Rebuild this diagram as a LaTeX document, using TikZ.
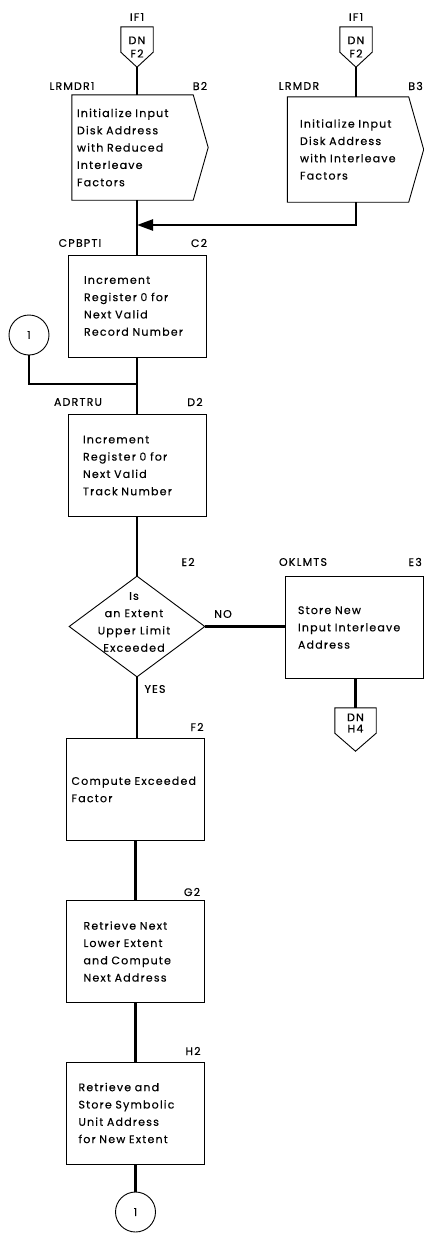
\documentclass[tikz,border=0pt]{standalone}
\usepackage{fontspec}
\setmainfont{Poppins}[FakeBold=0.3, LetterSpace=11]
\usetikzlibrary{shapes.geometric,arrows.meta}

\newcommand\chartfont{\fontsize{11}{17.3}\selectfont}

\tikzset{
  flow/.style={line width=2.4pt},
  outline/.style={line width=0.9pt},
  tag/.style={font=\chartfont, inner sep=0pt},
  procbox/.style={draw, outline, rectangle, font=\chartfont, inner sep=0pt,
    minimum width=138, minimum height=102, align=left, text width=#1},
  procbox/.default=110,
  entrybox/.style={rectangle, font=\chartfont, inner sep=0pt,
    minimum width=136, minimum height=105, align=left, text width=#1},
  pagelink/.style={rectangle, font=\chartfont, inner sep=0pt,
    minimum width=32, minimum height=40, align=center},
  decision/.style={draw, outline, diamond, minimum width=136, minimum height=101, inner sep=0pt},
  joint/.style={draw, outline, circle, minimum size=40, inner sep=0pt, font=\chartfont}
}

\begin{document}
\begin{tikzpicture}[x=1pt, y=-1pt]
  \useasboundingbox (0,0) rectangle (423,1234);

  % Entry connectors
  \node[pagelink] (ifa) at (137,47) {DN\\[-4pt]F2};
  \node[pagelink] (ifb) at (356,47) {DN\\[-4pt]F2};
  \foreach \p in {ifa,ifb}
    \draw[outline] (\p.north west) -- (\p.north east) -- ([yshift=15pt]\p.south east)
      -- (\p.south) -- ([yshift=15pt]\p.south west) -- cycle;
  \node[tag] at (137,17) {IF1};
  \node[tag] at (356,17) {IF1};

  % Entry boxes
  \node[entrybox=126] (b2) at (140,147.5) {Initialize Input\\Disk Address\\with Reduced\\Interleave\\Factors};
  \node[entrybox=111] (b3) at (355.5,149.5) {Initialize Input\\Disk Address\\with Interleave\\Factors};
  \foreach \p in {b2,b3}
    \draw[outline] (\p.north west) -- ([xshift=-15pt]\p.north east) -- (\p.east)
      -- ([xshift=-15pt]\p.south east) -- (\p.south west) -- cycle;
  \node[tag] at (72,86) {LRMDR1};
  \node[tag] at (200,86) {B2};
  \node[tag] at (299,86) {LRMDR};
  \node[tag, anchor=east] at (423,86) {B3};

  % Main column
  \node[procbox=106] (c2) at (137,306) {Increment\\Register 0 for\\Next Valid\\Record Number};
  \node[procbox=108] (d2) at (137,465.5) {Increment\\Register 0 for\\Next Valid\\Track Number};
  \node[decision] (dec) at (137,626.5) {};
  \node[tag, align=center] at (134,622) {Is\\an Extent\\Upper Limit\\Exceeded};
  \node[procbox=128] (f2) at (135.5,789.5) {Compute Exceeded\\Factor};
  \node[procbox=104] (g2) at (135.5,951.5) {Retrieve Next\\Lower Extent\\and Compute\\Next Address};
  \node[procbox=114] (h2) at (135.5,1113) {Retrieve and\\Store Symbolic\\Unit Address\\for New Extent};
  \node[joint] (c1) at (29,335) {1};
  \node[joint] (c1b) at (135.5,1212) {1};

  % Side branch
  \node[procbox=112] (e3) at (354,627.5) {Store New\\Input Interleave\\Address};
  \node[pagelink, minimum width=41, minimum height=43, text depth=13pt] (oph) at (355.5,729.5) {DN\\[-6pt]H4};
  \draw[outline] (oph.north west) -- (oph.north east) -- ([yshift=18pt]oph.south east)
    -- (oph.south) -- ([yshift=18pt]oph.south west) -- cycle;

  % Block labels
  \node[tag] at (80,243) {CPBPTI};
  \node[tag] at (199,243) {C2};
  \node[tag] at (78,402) {ADRTRU};
  \node[tag] at (195,402) {D2};
  \node[tag] at (188,562) {E2};
  \node[tag] at (303,562) {OKLMTS};
  \node[tag, anchor=east] at (422,562) {E3};
  \node[tag] at (223,614) {NO};
  \node[tag] at (155,689) {YES};
  \node[tag] at (197,727) {F2};
  \node[tag] at (192,892) {G2};
  \node[tag] at (193,1051) {H2};

  % Flow lines
  \coordinate (join) at (137,225);
  \coordinate (merge) at (137,384);
  \draw[flow] (ifa.south) -- (ifa.south |- b2.north);
  \draw[flow] (ifb.south) -- (ifb.south |- b3.north);
  \draw[flow] (c2.north |- b2.south) -- (c2.north);
  \draw[flow, -{Triangle[length=16pt,width=11pt]}] (ifb.south |- b3.south) |- (join);
  \draw[flow] (c2.south) -- (d2.north);
  \draw[flow] (c1.south) |- (merge);
  \draw[flow] (d2.south) -- (dec.north);
  \draw[flow] (dec.east) -- (dec.east -| e3.west);
  \draw[flow] (e3.south -| oph.north) -- (oph.north);
  \draw[flow] (dec.south) -- (dec.south |- f2.north);
  \draw[flow] (f2.south) -- (g2.north);
  \draw[flow] (g2.south) -- (h2.north);
  \draw[flow] (h2.south) -- (c1b.north);
\end{tikzpicture}
\end{document}
